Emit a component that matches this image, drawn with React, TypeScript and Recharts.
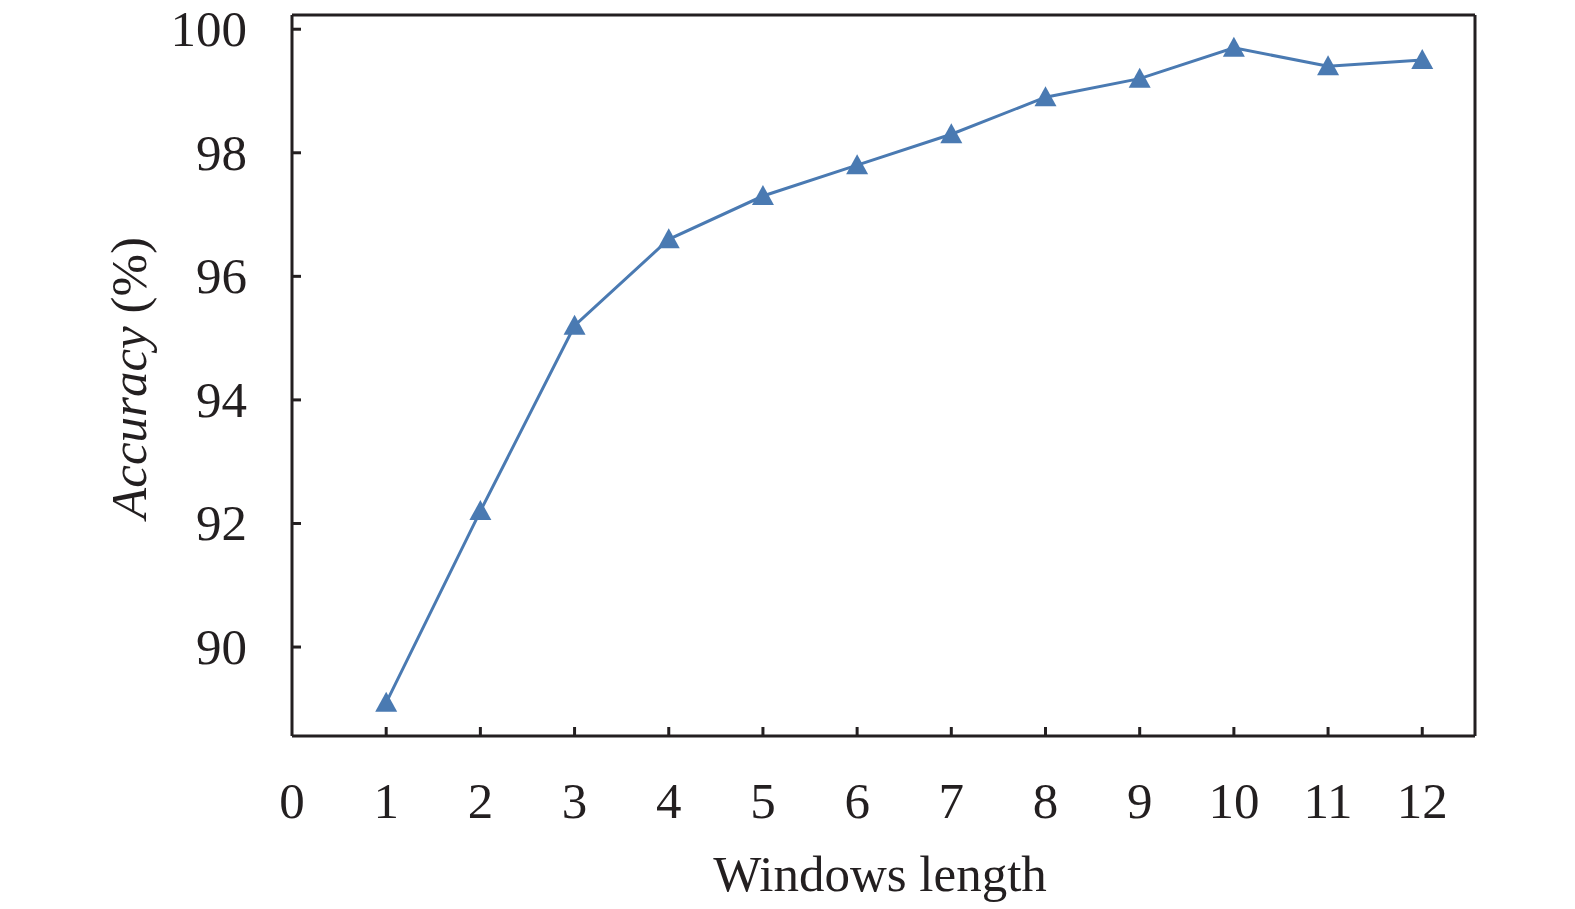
import { LineChart, Line, XAxis, YAxis, ReferenceLine, Label } from "recharts";

const windowLengths = [1, 2, 3, 4, 5, 6, 7, 8, 9, 10, 11, 12];
const accuracy = [89.1, 92.2, 95.2, 96.6, 97.3, 97.8, 98.3, 98.9, 99.2, 99.7, 99.4, 99.5];
const xTicks = [0, 1, 2, 3, 4, 5, 6, 7, 8, 9, 10, 11, 12];
const yTicks = [90, 92, 94, 96, 98, 100];
const xDomain: [number, number] = [0, 12.56];
const yDomain: [number, number] = [88.56, 100.23];

const AXIS = "#231f20";
const LINE = "#4a7ab2";
const FONT = '"Liberation Serif", "Times New Roman", serif';
const FONT_SIZE = 51;

const data = windowLengths.map((w, i) => ({ window: w, accuracy: accuracy[i] }));

function XTick(props: any) {
  const { x, y, payload } = props;
  return (
    <g>
      {payload.value !== 0 && <line x1={x} x2={x} y1={y} y2={y - 9} stroke={AXIS} strokeWidth={3} />}
      <text x={x} y={y + 82} textAnchor="middle" fill={AXIS} fontFamily={FONT} fontSize={FONT_SIZE}>
        {payload.value}
      </text>
    </g>
  );
}

function YTick(props: any) {
  const { x, y, payload } = props;
  return (
    <g>
      <line x1={x} x2={x + 9} y1={y} y2={y} stroke={AXIS} strokeWidth={3} />
      <text x={x - 45} y={y + 17} textAnchor="end" fill={AXIS} fontFamily={FONT} fontSize={FONT_SIZE}>
        {payload.value}
      </text>
    </g>
  );
}

function Triangle(props: any) {
  const { cx, cy } = props;
  if (cx == null || cy == null) return null;
  return <polygon points={`${cx},${cy - 11} ${cx - 11},${cy + 9} ${cx + 11},${cy + 9}`} fill={LINE} />;
}

export default function App() {
  return (
    <div style={{ position: "absolute", left: 0, top: 0, background: "#fff" }}>
      <LineChart width={1575} height={909} data={data} margin={{ top: 15, right: 100, bottom: 0, left: 0 }}>
        <XAxis
          dataKey="window"
          type="number"
          domain={xDomain}
          ticks={xTicks}
          allowDataOverflow
          height={173}
          tickSize={0}
          tickMargin={0}
          tickLine={false}
          tick={<XTick />}
          axisLine={{ stroke: AXIS, strokeWidth: 3 }}
        >
          <Label
            content={() => (
              <text x={880} y={891} textAnchor="middle" fill={AXIS} fontFamily={FONT} fontSize={FONT_SIZE}>
                Windows length
              </text>
            )}
          />
        </XAxis>
        <YAxis
          type="number"
          domain={yDomain}
          ticks={yTicks}
          allowDataOverflow
          width={292}
          tickSize={0}
          tickMargin={0}
          tickLine={false}
          tick={<YTick />}
          axisLine={{ stroke: AXIS, strokeWidth: 3 }}
        >
          <Label
            content={() => (
              <text
                x={146}
                y={378}
                transform="rotate(-90, 146, 378)"
                textAnchor="middle"
                fill={AXIS}
                fontFamily={FONT}
                fontSize={FONT_SIZE}
              >
                <tspan fontStyle="italic">Accuracy</tspan>
                <tspan> (%)</tspan>
              </text>
            )}
          />
        </YAxis>
        <ReferenceLine y={yDomain[1]} stroke={AXIS} strokeWidth={3} />
        <ReferenceLine x={xDomain[1]} stroke={AXIS} strokeWidth={3} />
        <Line
          type="linear"
          dataKey="accuracy"
          stroke={LINE}
          strokeWidth={3}
          dot={<Triangle />}
          activeDot={false}
          isAnimationActive={false}
        />
      </LineChart>
    </div>
  );
}
